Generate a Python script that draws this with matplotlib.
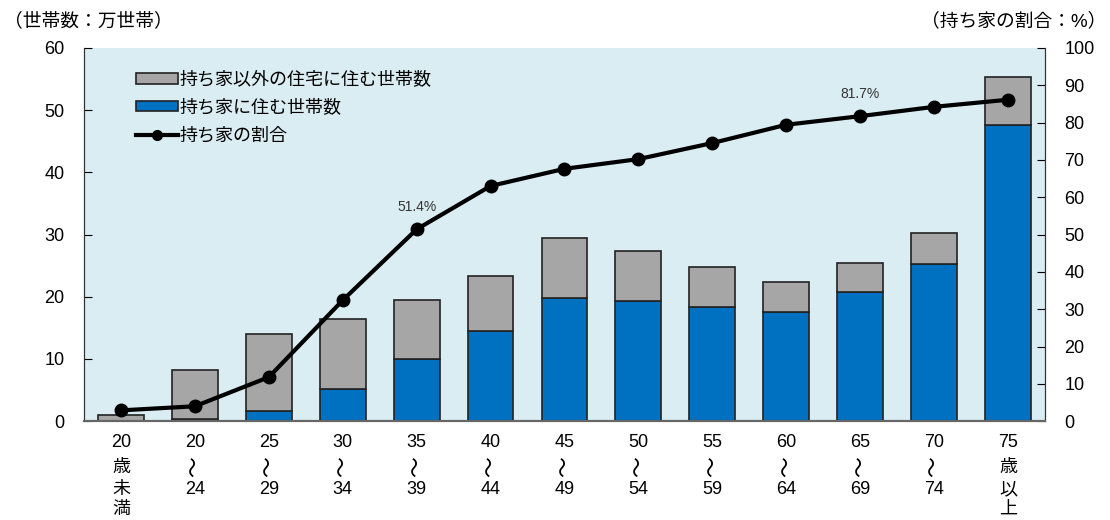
import numpy as np
import matplotlib
matplotlib.use('Agg')
from matplotlib import pyplot as plt
from matplotlib.patches import Patch
from matplotlib.lines import Line2D

plt.rcParams['font.family'] = ['Liberation Sans', 'Noto Sans CJK JP', 'DejaVu Sans']

# 年齢階級 (縦書きの各行, '〜' は縦の波線として描く)
age_labels = [['20', '歳', '未', '満'], ['20', '〜', '24'], ['25', '〜', '29'], ['30', '〜', '34'],
              ['35', '〜', '39'], ['40', '〜', '44'], ['45', '〜', '49'], ['50', '〜', '54'],
              ['55', '〜', '59'], ['60', '〜', '64'], ['65', '〜', '69'], ['70', '〜', '74'],
              ['75', '歳', '以', '上']]
# 持ち家に住む世帯数 (万世帯)
owner_households = [0.03, 0.3, 1.6, 5.2, 10.0, 14.5, 19.8, 19.3, 18.3, 17.5, 20.7, 25.2, 47.6]
# 世帯数合計 (万世帯)
total_households = [1.0, 8.2, 14.0, 16.4, 19.5, 23.3, 29.4, 27.3, 24.8, 22.3, 25.4, 30.2, 55.3]
# 持ち家の割合 (%)
owner_rate = [2.9, 4.0, 11.8, 32.4, 51.4, 63.0, 67.6, 70.2, 74.5, 79.4, 81.7, 84.2, 86.1]
annotated = {4: '51.4%', 10: '81.7%'}

blue = '#0070C0'
gray = '#A6A6A6'
bg = '#DAEDF3'

owner = np.array(owner_households)
other = np.array(total_households) - owner
x = np.arange(len(age_labels))

fig = plt.figure(figsize=(11.1, 5.2), dpi=100)
ax = fig.add_axes([0.0757, 0.19, 0.8657, 0.718])
ax.set_facecolor(bg)

ax.bar(x, owner, width=0.62, color=blue, edgecolor='#222222', linewidth=1.2, zorder=2)
ax.bar(x, other, width=0.62, bottom=owner, color=gray, edgecolor='#222222', linewidth=1.2, zorder=2)

ax.set_xlim(-0.5, len(age_labels) - 0.5)
ax.set_ylim(0, 60)
ax.set_yticks(range(0, 61, 10))
ax.set_xticks([])
ax.tick_params(axis='y', direction='in', length=6, labelsize=13, pad=14)

# 縦書きの横軸ラベル
row_offsets = [-15.5, -33.5, -49.5, -63.5]
for i, rows in enumerate(age_labels):
    for j, s in enumerate(rows):
        if s == '〜':
            ax.annotate(s, (x[i], 0), xycoords=ax.get_xaxis_transform(),
                        xytext=(0, row_offsets[j] + 0.5), textcoords='offset points',
                        ha='center', va='center', fontsize=15, rotation=90,
                        annotation_clip=False)
        else:
            ax.annotate(s, (x[i], 0), xycoords=ax.get_xaxis_transform(),
                        xytext=(0, row_offsets[j]), textcoords='offset points',
                        ha='center', va='center', fontsize=13, annotation_clip=False)

ax2 = ax.twinx()
ax2.plot(x, owner_rate, color='black', linewidth=3, marker='o', markersize=9, zorder=5)
ax2.set_ylim(0, 100)
ax2.set_yticks(range(0, 101, 10))
ax2.tick_params(axis='y', direction='in', length=6, labelsize=13, pad=14)

for i, txt in annotated.items():
    ax2.annotate(txt, (x[i], owner_rate[i]), xytext=(0, 11), textcoords='offset points',
                 ha='center', va='bottom', fontsize=10, color='#333333')

for a in (ax, ax2):
    a.spines['top'].set_visible(False)
    a.spines['left'].set_color('#333333')
    a.spines['right'].set_color('#333333')
    a.spines['bottom'].set_color('#666666')
    a.spines['bottom'].set_linewidth(1.5)

handles = [Patch(facecolor=gray, edgecolor='#222222', linewidth=1.2),
           Patch(facecolor=blue, edgecolor='#222222', linewidth=1.2),
           Line2D([], [], color='black', linewidth=3, marker='o', markersize=7)]
labels = ['持ち家以外の住宅に住む世帯数', '持ち家に住む世帯数', '持ち家の割合']
ax2.legend(handles, labels, loc='upper left', bbox_to_anchor=(0.047, 0.955), frameon=False,
           fontsize=13, handlelength=2.3, handleheight=0.5, handletextpad=0.1,
           labelspacing=0.6, borderaxespad=0)

fig.text(0.004, 0.96, '（世帯数：万世帯）', fontsize=13.5, ha='left', va='center')
fig.text(0.997, 0.96, '（持ち家の割合：%）', fontsize=13.5, ha='right', va='center')

fig.savefig('out.png', dpi=100)
